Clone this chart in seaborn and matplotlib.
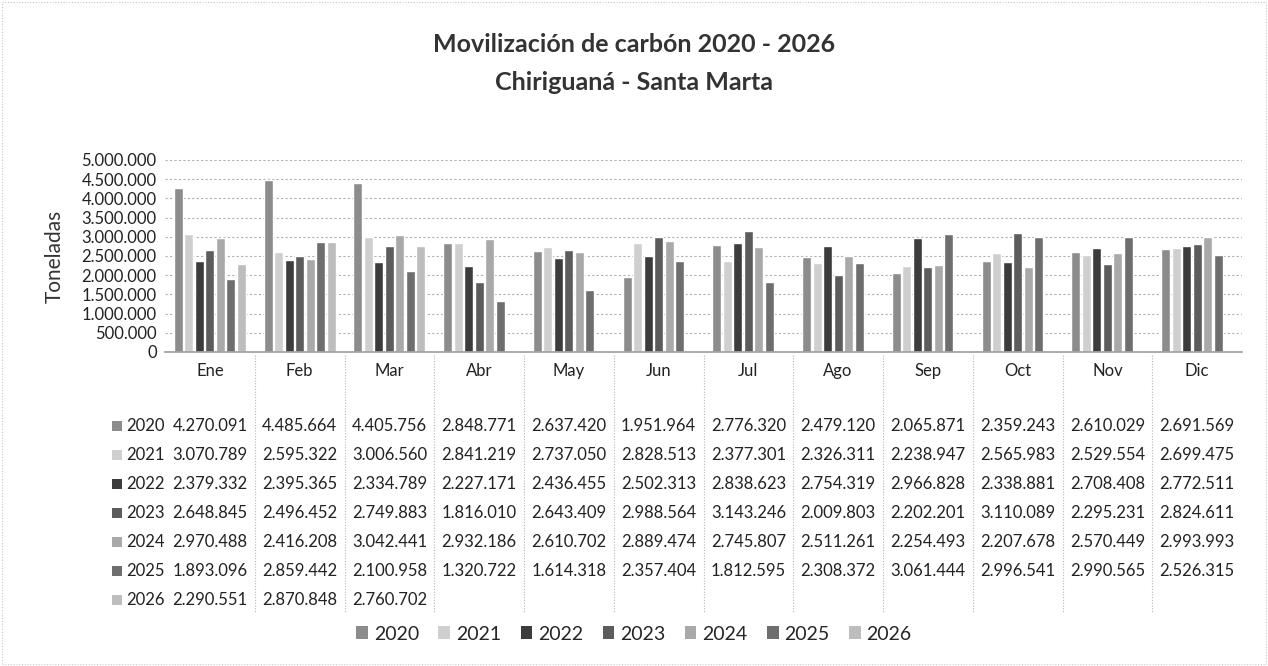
import matplotlib
matplotlib.use("Agg")
import matplotlib.pyplot as plt
from matplotlib.transforms import blended_transform_factory
from matplotlib.patches import Patch, Rectangle
import pandas as pd
import seaborn as sns

months = ["Ene", "Feb", "Mar", "Abr", "May", "Jun", "Jul", "Ago", "Sep", "Oct", "Nov", "Dic"]
years = ["2020", "2021", "2022", "2023", "2024", "2025", "2026"]

v2020 = [4270091, 4485664, 4405756, 2848771, 2637420, 1951964, 2776320, 2479120, 2065871, 2359243, 2610029, 2691569]
v2021 = [3070789, 2595322, 3006560, 2841219, 2737050, 2828513, 2377301, 2326311, 2238947, 2565983, 2529554, 2699475]
v2022 = [2379332, 2395365, 2334789, 2227171, 2436455, 2502313, 2838623, 2754319, 2966828, 2338881, 2708408, 2772511]
v2023 = [2648845, 2496452, 2749883, 1816010, 2643409, 2988564, 3143246, 2009803, 2202201, 3110089, 2295231, 2824611]
v2024 = [2970488, 2416208, 3042441, 2932186, 2610702, 2889474, 2745807, 2511261, 2254493, 2207678, 2570449, 2993993]
v2025 = [1893096, 2859442, 2100958, 1320722, 1614318, 2357404, 1812595, 2308372, 3061444, 2996541, 2990565, 2526315]
v2026 = [2290551, 2870848, 2760702]

series = [v2020, v2021, v2022, v2023, v2024, v2025, v2026]
colors = ["#8c8c8c", "#cfcfcf", "#3c3c3c", "#5c5c5c", "#a9a9a9", "#6e6e6e", "#bdbdbd"]

rows = []
for y, vals in zip(years, series):
    for m, v in zip(months, vals):
        rows.append({"Mes": m, "Año": y, "Toneladas": v})
df = pd.DataFrame(rows)

sns.set_theme(style="white")
plt.rcParams["font.family"] = ["Lato", "DejaVu Sans"]

W, H = 1268, 666
fig = plt.figure(figsize=(W / 100, H / 100), dpi=100)
ax = fig.add_axes([165 / W, 1 - 352 / H, (1242 - 165) / W, (352 - 160) / H])

sns.barplot(data=df, x="Mes", y="Toneladas", hue="Año", order=months, hue_order=years,
            palette=colors, width=0.82, gap=0.15, ax=ax, legend=False, errorbar=None)

ax.set_xlim(-0.5, 11.5)
ax.set_ylim(0, 5000000)
ticks = list(range(0, 5000001, 500000))
ax.set_yticks(ticks)
ax.set_yticklabels([f"{t:,}".replace(",", ".") for t in ticks], fontsize=12, color="#222222")
ax.yaxis.grid(True, linestyle=(0, (2, 2)), color="#b0b0b0", linewidth=0.8)
ax.set_axisbelow(True)
ax.tick_params(axis="both", length=0, pad=6)
ax.tick_params(axis="x", labelsize=12, labelcolor="#222222", pad=8)
ax.set_xlabel("")
ax.set_ylabel("Toneladas", fontsize=15, color="#333333", labelpad=12)
for s in ["top", "right", "left"]:
    ax.spines[s].set_visible(False)
ax.spines["bottom"].set_color("#a0a0a0")

fig.text(0.5, 1 - 45 / H, "Movilización de carbón 2020 - 2026", ha="center", va="center",
         fontsize=18, fontweight="bold", color="#333333")
fig.text(0.5, 1 - 82 / H, "Chiriguaná - Santa Marta", ha="center", va="center",
         fontsize=18, fontweight="bold", color="#333333")

# data table under the chart
tr = blended_transform_factory(ax.transData, fig.transFigure)
row_y = [426, 455, 484, 513, 542, 571, 600]
for y, vals, c, py in zip(years, series, colors, row_y):
    fy = 1 - py / H
    fig.patches.append(Rectangle((112 / W, fy - 5 / H), 10 / W, 10 / H, transform=fig.transFigure,
                                 facecolor=c, edgecolor="none"))
    fig.text(126 / W, fy, y, ha="left", va="center", fontsize=12, color="#222222")
    for i, v in enumerate(vals):
        ax.text(i, fy, f"{v:,}".replace(",", "."), transform=tr, ha="center", va="center",
                fontsize=12, color="#222222", clip_on=False)

for k in range(11):
    x = k + 0.5
    ax.plot([x, x], [1 - 355 / H, 1 - 612 / H], transform=tr, color="#b5b5b5",
            linestyle=(0, (1, 1.5)), linewidth=0.8, clip_on=False)

handles = [Patch(facecolor=c, edgecolor="none") for c in colors]
fig.legend(handles, years, loc="center", bbox_to_anchor=(0.5, 1 - 634 / H), ncol=7,
           frameon=False, fontsize=14, handlelength=0.6, handleheight=0.6,
           handletextpad=0.3, columnspacing=1.0)

fig.patches.append(Rectangle((2 / W, 2 / H), 1 - 4 / W, 1 - 4 / H, transform=fig.transFigure,
                             facecolor="none", edgecolor="#c8c8c8", linewidth=0.8,
                             linestyle=(0, (1, 1.5))))

fig.savefig("out.png", dpi=100)
